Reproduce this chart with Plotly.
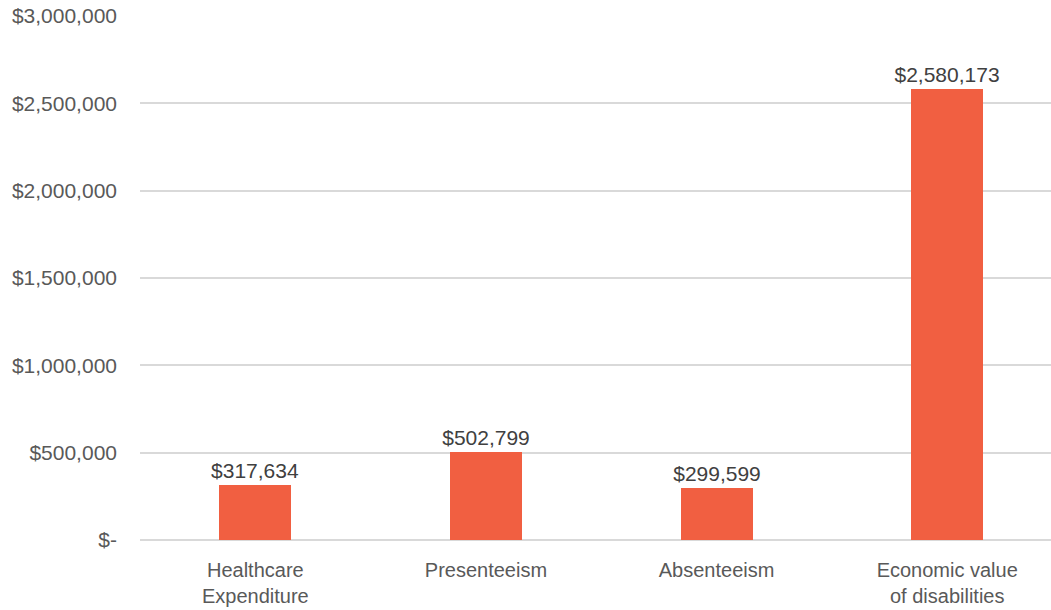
import plotly.graph_objects as go

categories = ["Healthcare<br>Expenditure", "Presenteeism", "Absenteeism", "Economic value<br>of disabilities"]
values = [317634, 502799, 299599, 2580173]
tick_values = [0, 500000, 1000000, 1500000, 2000000, 2500000, 3000000]
tick_labels = ["$-", "$500,000", "$1,000,000", "$1,500,000", "$2,000,000", "$2,500,000", "$3,000,000"]

bar_color = "#F15F41"
font_family = "Liberation Sans, Arial, sans-serif"

fig = go.Figure(
    go.Bar(
        x=list(range(len(categories))),
        y=values,
        width=0.312,
        marker=dict(color=bar_color, line=dict(width=0)),
        text=[f"${v:,}" for v in values],
        textposition="outside",
        constraintext="none",
        cliponaxis=False,
        textfont=dict(family=font_family, size=21, color="#404040"),
    )
)

fig.update_layout(
    width=1051,
    height=610,
    margin=dict(l=140, r=0, t=16, b=70),
    paper_bgcolor="white",
    plot_bgcolor="white",
    showlegend=False,
    bargap=0,
    font=dict(family=font_family, size=21, color="#595959"),
    xaxis=dict(
        range=[-0.5, 3.45],
        tickmode="array",
        tickvals=list(range(len(categories))),
        ticktext=categories,
        showgrid=False,
        zeroline=False,
        showline=False,
        ticks="",
        ticklabelstandoff=16,
        tickfont=dict(family=font_family, size=20, color="#595959"),
    ),
    yaxis=dict(
        range=[0, 3000000],
        tickmode="array",
        tickvals=tick_values,
        ticktext=tick_labels,
        showgrid=True,
        gridcolor="#D9D9D9",
        gridwidth=2,
        zeroline=True,
        zerolinecolor="#D9D9D9",
        zerolinewidth=2,
        showline=False,
        ticks="",
        ticklabelstandoff=22,
        tickfont=dict(family=font_family, size=21, color="#595959"),
    ),
)

fig.write_html("out.html")
